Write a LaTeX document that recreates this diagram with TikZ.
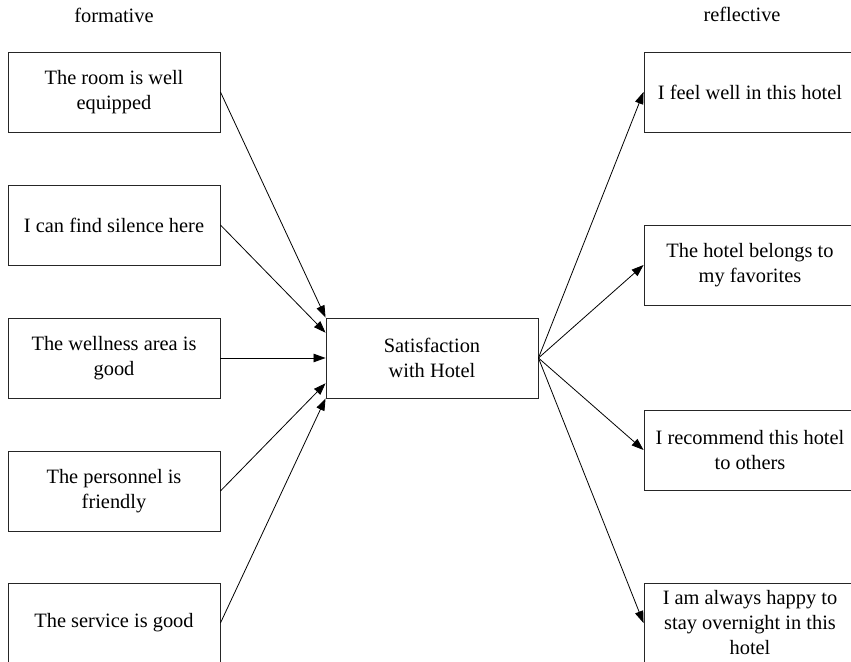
\documentclass[tikz,border=0pt]{standalone}
\usepackage{fontspec}
\setmainfont{Liberation Serif}
\usetikzlibrary{arrows.meta,calc}
\begin{document}
\begin{tikzpicture}[x=1pt,y=-1pt,
  item/.style={draw=black!85, line width=0.9pt, minimum width=212pt, minimum height=80pt,
    inner sep=0pt, align=center, font=\fontsize{20.4}{25}\selectfont},
  head/.style={font=\fontsize{20.4}{25}\selectfont, inner sep=0pt},
  link/.style={draw=black, line width=0.8pt, -{Triangle[length=12pt,width=8.5pt]}}]
\clip (0,0) rectangle (851,661);

% column headings
\node[head] (hf) at (114,15) {formative};
\node[head] (hr) at (742,14) {reflective};

% formative indicators
\node[item] (l1) at (114,92)  {The room is well\\equipped};
\node[item] (l2) at (114,225) {I can find silence here};
\node[item] (l3) at (114,358) {The wellness area is\\good};
\node[item] (l4) at (114,491) {The personnel is\\friendly};
\node[item] (l5) at (114,623) {The service is good};

% construct
\node[item] (c) at (432,358) {Satisfaction\\with Hotel};

% reflective indicators
\node[item] (r1) at (750,92)  {I feel well in this hotel};
\node[item] (r2) at (750,265) {The hotel belongs to\\my favorites};
\node[item] (r3) at (750,450) {I recommend this hotel\\to others};
\node[item] (r4) at (750,623) {I am always happy to\\stay overnight in this\\hotel};

% entry points on the left side of the construct
\coordinate (c1) at (c.north west);
\coordinate (c2) at ($(c.north west)!0.1875!(c.south west)$);
\coordinate (c3) at (c.west);
\coordinate (c4) at ($(c.north west)!0.8125!(c.south west)$);
\coordinate (c5) at (c.south west);

\draw[link] (l1.east) -- (c1);
\draw[link] (l2.east) -- (c2);
\draw[link] (l3.east) -- (c3);
\draw[link] (l4.east) -- (c4);
\draw[link] (l5.east) -- (c5);

\draw[link] (c.east) -- (r1.west);
\draw[link] (c.east) -- (r2.west);
\draw[link] (c.east) -- (r3.west);
\draw[link] (c.east) -- (r4.west);
\end{tikzpicture}
\end{document}
